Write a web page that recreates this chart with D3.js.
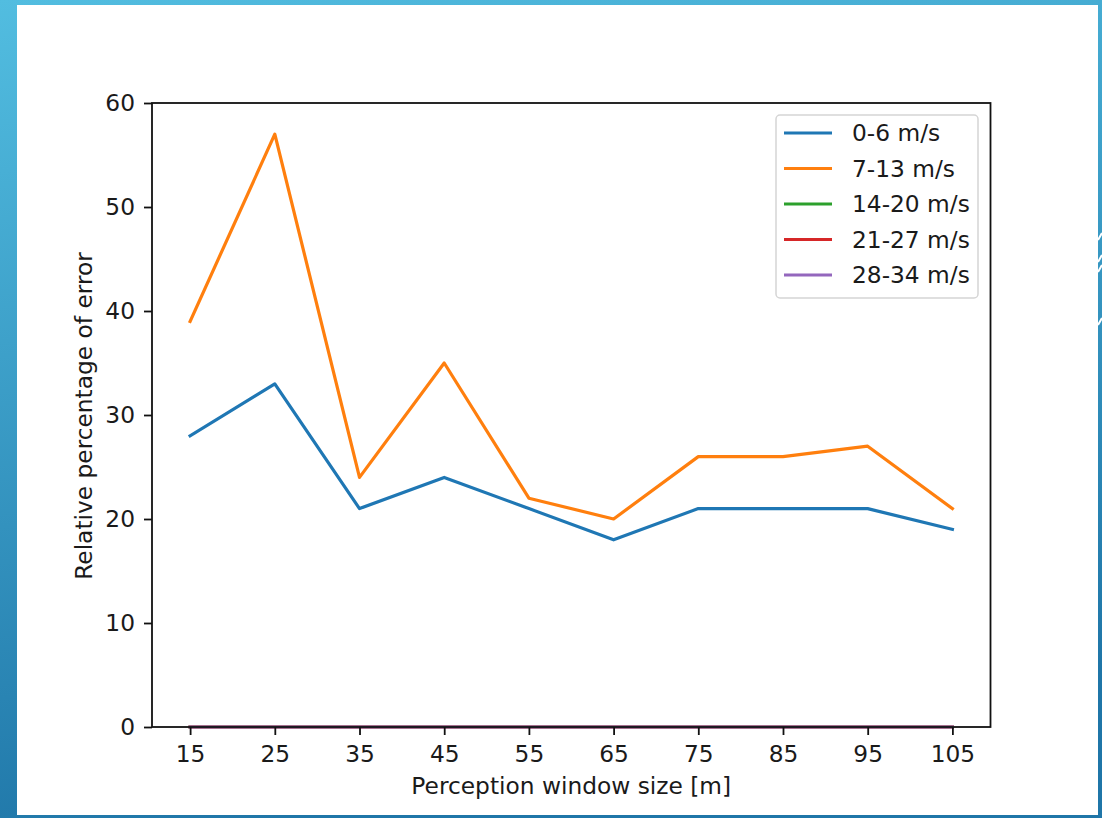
<!DOCTYPE html>
<html>
<head>
<meta charset="utf-8">
<script src="https://cdn.jsdelivr.net/npm/d3@7"></script>
<style>
  html, body { margin: 0; padding: 0; background: #fff; }
  svg { display: block; }
  text { font-family: "DejaVu Sans", sans-serif; fill: #1a1a1a; }
</style>
</head>
<body>
<svg id="chart" width="1102" height="818"></svg>
<script>
// ---- data ----
const windowSizes = [15, 25, 35, 45, 55, 65, 75, 85, 95, 105];
const speed0to6   = [28, 33, 21, 24, 21, 18, 21, 21, 21, 19];
const speed7to13  = [39, 57, 24, 35, 22, 20, 26, 26, 27, 21];
const speed14to20 = [0, 0, 0, 0, 0, 0, 0, 0, 0, 0];
const speed21to27 = [0, 0, 0, 0, 0, 0, 0, 0, 0, 0];
const speed28to34 = [0, 0, 0, 0, 0, 0, 0, 0, 0, 0];
const seriesNames = ["0-6 m/s", "7-13 m/s", "14-20 m/s", "21-27 m/s", "28-34 m/s"];
const seriesColors = ["#1f77b4", "#ff7f0e", "#2ca02c", "#d62728", "#9467bd"];
const yTicks = [0, 10, 20, 30, 40, 50, 60];
const xLabel = "Perception window size [m]";
const yLabel = "Relative percentage of error";

const seriesValues = [speed0to6, speed7to13, speed14to20, speed21to27, speed28to34];

const FONT = "23.3px";
const svg = d3.select("#chart");
const W = 1102, H = 818;

// slide background
const defs = svg.append("defs");
const grad = defs.append("linearGradient").attr("id", "bg")
  .attr("x1", "0").attr("y1", "0").attr("x2", "0.25").attr("y2", "1");
grad.append("stop").attr("offset", "0").attr("stop-color", "#52bde0");
grad.append("stop").attr("offset", "1").attr("stop-color", "#1f76a8");
svg.append("rect").attr("width", W).attr("height", H).attr("fill", "url(#bg)");
svg.append("rect").attr("x", 17).attr("y", 5).attr("width", 1081).attr("height", 810).attr("fill", "#fff");

// small white slide decorations on right edge
const deco = svg.append("g").attr("stroke", "#fff").attr("stroke-width", 2).attr("fill", "none");
[[1098, 240, 1102, 233], [1098, 262, 1102, 255], [1098, 272, 1102, 265], [1098, 325, 1102, 318]].forEach(d => {
  deco.append("line").attr("x1", d[0]).attr("y1", d[1]).attr("x2", d[2]).attr("y2", d[3]);
});

// plot area
const m = { left: 152, right: 990.5, top: 103, bottom: 727 };
const x = d3.scaleLinear().domain([10.5, 109.5]).range([m.left, m.right]);
const y = d3.scaleLinear().domain([0, 60]).range([m.bottom, m.top]);

const line = d3.line().x((d, i) => x(windowSizes[i])).y(d => y(d));

const lines = svg.append("g");
seriesValues.forEach((vals, k) => {
  lines.append("path")
    .attr("d", line(vals))
    .attr("fill", "none")
    .attr("stroke", seriesColors[k])
    .attr("stroke-width", 3.2)
    .attr("stroke-linejoin", "round")
    .attr("stroke-linecap", "square");
});

// axes
const xAxis = d3.axisBottom(x).tickValues(windowSizes).tickSize(8).tickPadding(10);
const yAxis = d3.axisLeft(y).tickValues(yTicks).tickSize(8).tickPadding(9);

const gx = svg.append("g").attr("transform", `translate(0,${m.bottom})`).call(xAxis);
const gy = svg.append("g").attr("transform", `translate(${m.left},0)`).call(yAxis);
[gx, gy].forEach(g => {
  g.select(".domain").remove();
  g.selectAll(".tick line").attr("stroke", "#111").attr("stroke-width", 1.8);
  g.selectAll(".tick text").style("font-family", "DejaVu Sans").style("font-size", FONT).attr("fill", "#1a1a1a");
});

// frame
svg.append("rect")
  .attr("x", m.left).attr("y", m.top)
  .attr("width", m.right - m.left).attr("height", m.bottom - m.top)
  .attr("fill", "none").attr("stroke", "#111").attr("stroke-width", 1.8);

// axis labels
svg.append("text")
  .attr("x", (m.left + m.right) / 2).attr("y", 794)
  .attr("text-anchor", "middle").style("font-size", FONT)
  .text(xLabel);
svg.append("text")
  .attr("transform", `translate(92,${(m.top + m.bottom) / 2 + 1}) rotate(-90)`)
  .attr("text-anchor", "middle").style("font-size", FONT)
  .text(yLabel);

// legend
const lg = svg.append("g");
lg.append("rect")
  .attr("x", 776).attr("y", 115).attr("width", 202).attr("height", 183)
  .attr("rx", 4).attr("fill", "#fff").attr("fill-opacity", 0.8)
  .attr("stroke", "#d5d5d5").attr("stroke-width", 1.5);
seriesNames.forEach((name, k) => {
  const cy = 133 + k * 35.5;
  lg.append("line")
    .attr("x1", 784).attr("x2", 832).attr("y1", cy).attr("y2", cy)
    .attr("stroke", seriesColors[k]).attr("stroke-width", 3.2);
  lg.append("text")
    .attr("x", 852).attr("y", cy).attr("dy", "0.36em")
    .style("font-size", FONT)
    .text(name);
});
</script>
</body>
</html>
